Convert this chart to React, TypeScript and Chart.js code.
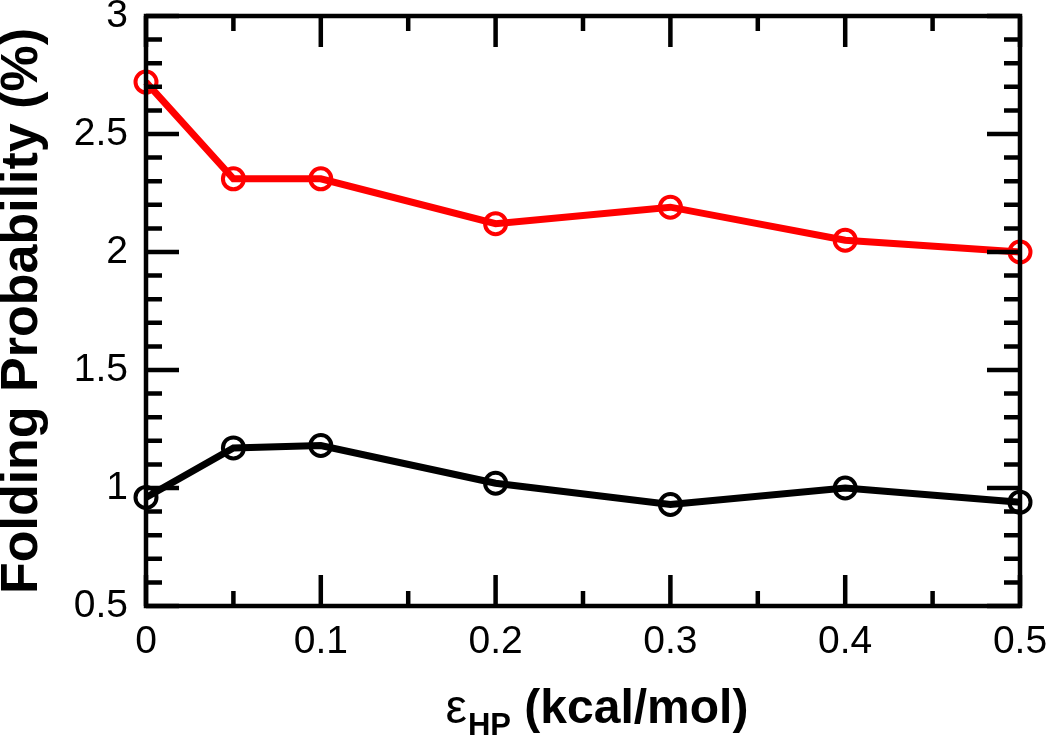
import React, { useEffect, useRef } from "react";
import { Chart, registerables } from "chart.js";

Chart.register(...registerables);

const xValues = [0, 0.05, 0.1, 0.2, 0.3, 0.4, 0.5];
const redSeries = [2.72, 2.31, 2.31, 2.12, 2.19, 2.05, 2.0];
const blackSeries = [0.96, 1.17, 1.18, 1.02, 0.93, 1.0, 0.94];
const yTitle = "Folding Probability (%)";
const xTitleSymbol = "ε";
const xTitleSub = "HP";
const xTitleRest = " (kcal/mol)";

const FONT = "'Liberation Sans', Arial, Helvetica, sans-serif";

const framePlugin = {
  id: "frameTicks",
  afterDatasetsDraw(chart: any) {
    const { ctx, chartArea } = chart;
    const { left, right, top, bottom } = chartArea;
    const xs = chart.scales.x;
    const ys = chart.scales.y;
    ctx.save();
    ctx.strokeStyle = "#000";
    ctx.lineWidth = 4.5;
    ctx.lineCap = "butt";
    const majY = 33, minY = 16, majX = 31, minX = 15;
    const yMaj = ys.ticks.map((t: any) => t.value);
    const ySubs = 5;
    for (let i = 0; i < yMaj.length; i++) {
      const v = yMaj[i];
      const p = ys.getPixelForValue(v);
      ctx.beginPath();
      ctx.moveTo(left, p); ctx.lineTo(left + majY, p);
      ctx.moveTo(right, p); ctx.lineTo(right - majY, p);
      ctx.stroke();
      if (i < yMaj.length - 1) {
        const step = (yMaj[i + 1] - v) / ySubs;
        for (let k = 1; k < ySubs; k++) {
          const pp = ys.getPixelForValue(v + k * step);
          ctx.beginPath();
          ctx.moveTo(left, pp); ctx.lineTo(left + minY, pp);
          ctx.moveTo(right, pp); ctx.lineTo(right - minY, pp);
          ctx.stroke();
        }
      }
    }
    const xMaj = xs.ticks.map((t: any) => t.value);
    const xSubs = 2;
    for (let i = 0; i < xMaj.length; i++) {
      const v = xMaj[i];
      const p = xs.getPixelForValue(v);
      ctx.beginPath();
      ctx.moveTo(p, bottom); ctx.lineTo(p, bottom - majX);
      ctx.moveTo(p, top); ctx.lineTo(p, top + majX);
      ctx.stroke();
      if (i < xMaj.length - 1) {
        const step = (xMaj[i + 1] - v) / xSubs;
        for (let k = 1; k < xSubs; k++) {
          const pp = xs.getPixelForValue(v + k * step);
          ctx.beginPath();
          ctx.moveTo(pp, bottom); ctx.lineTo(pp, bottom - minX);
          ctx.moveTo(pp, top); ctx.lineTo(pp, top + minX);
          ctx.stroke();
        }
      }
    }
    ctx.lineJoin = "miter";
    ctx.strokeRect(left, top, right - left, bottom - top);

    const symFont = `48px ${FONT}`;
    const subFont = `bold 31px ${FONT}`;
    const restFont = `bold 48px ${FONT}`;
    ctx.font = symFont; const w1 = ctx.measureText(xTitleSymbol).width;
    ctx.font = subFont; const w2 = ctx.measureText(xTitleSub).width;
    ctx.font = restFont; const w3 = ctx.measureText(xTitleRest).width;
    const total = w1 + 1 + w2 + w3;
    const cx = (left + right) / 2 + 14;
    let x0 = cx - total / 2;
    const base = 723;
    ctx.fillStyle = "#000";
    ctx.textAlign = "left";
    ctx.textBaseline = "alphabetic";
    ctx.font = symFont; ctx.fillText(xTitleSymbol, x0, base);
    x0 += w1 + 1;
    ctx.font = subFont; ctx.fillText(xTitleSub, x0, base + 12);
    x0 += w2;
    ctx.font = restFont; ctx.fillText(xTitleRest, x0, base);
    ctx.restore();
  },
};

const fmt = (v: any) => String(Number(v));

export default function App() {
  const ref = useRef<HTMLCanvasElement | null>(null);
  useEffect(() => {
    if (!ref.current) return;
    const mk = (data: number[], color: string) => ({
      data: xValues.map((x, i) => ({ x, y: data[i] })),
      borderColor: color,
      backgroundColor: "rgba(0,0,0,0)",
      borderWidth: 7,
      pointRadius: 10.5,
      pointHoverRadius: 10.5,
      pointBorderWidth: 4,
      pointBorderColor: color,
      pointBackgroundColor: "rgba(0,0,0,0)",
      tension: 0,
      clip: false as any,
    });
    const chart = new Chart(ref.current, {
      type: "line",
      data: { datasets: [mk(redSeries, "#ff0000"), mk(blackSeries, "#000000")] },
      options: {
        animation: false,
        responsive: false,
        events: [],
        layout: { padding: { left: 0, top: 16, right: 30, bottom: 0 } },
        plugins: { legend: { display: false }, tooltip: { enabled: false } },
        scales: {
          x: {
            type: "linear",
            min: 0,
            max: 0.5,
            grid: { display: false, drawTicks: false },
            border: { display: false },
            ticks: {
              stepSize: 0.1,
              color: "#000",
              padding: 13,
              maxRotation: 0,
              callback: fmt,
              font: { family: FONT, size: 39 },
            },
            afterFit: (s: any) => {
              s.height = 130;
              s.paddingLeft = 0;
              s.paddingRight = 0;
            },
          },
          y: {
            type: "linear",
            min: 0.5,
            max: 3,
            grid: { display: false, drawTicks: false },
            border: { display: false },
            ticks: {
              stepSize: 0.5,
              color: "#000",
              padding: 18,
              callback: fmt,
              font: { family: FONT, size: 39 },
            },
            title: {
              display: true,
              text: yTitle,
              color: "#000",
              padding: 0,
              font: { family: FONT, size: 52, weight: "bold", lineHeight: 0.88 },
            },
            afterFit: (s: any) => {
              s.width = 146;
              s.paddingTop = 0;
              s.paddingBottom = 0;
            },
          },
        },
      },
      plugins: [framePlugin],
    });
    return () => chart.destroy();
  }, []);
  return (
    <div style={{ position: "absolute", left: 0, top: 0, width: 1050, height: 736, background: "#fff" }}>
      <canvas ref={ref} width={1050} height={736} style={{ display: "block" }} />
    </div>
  );
}
